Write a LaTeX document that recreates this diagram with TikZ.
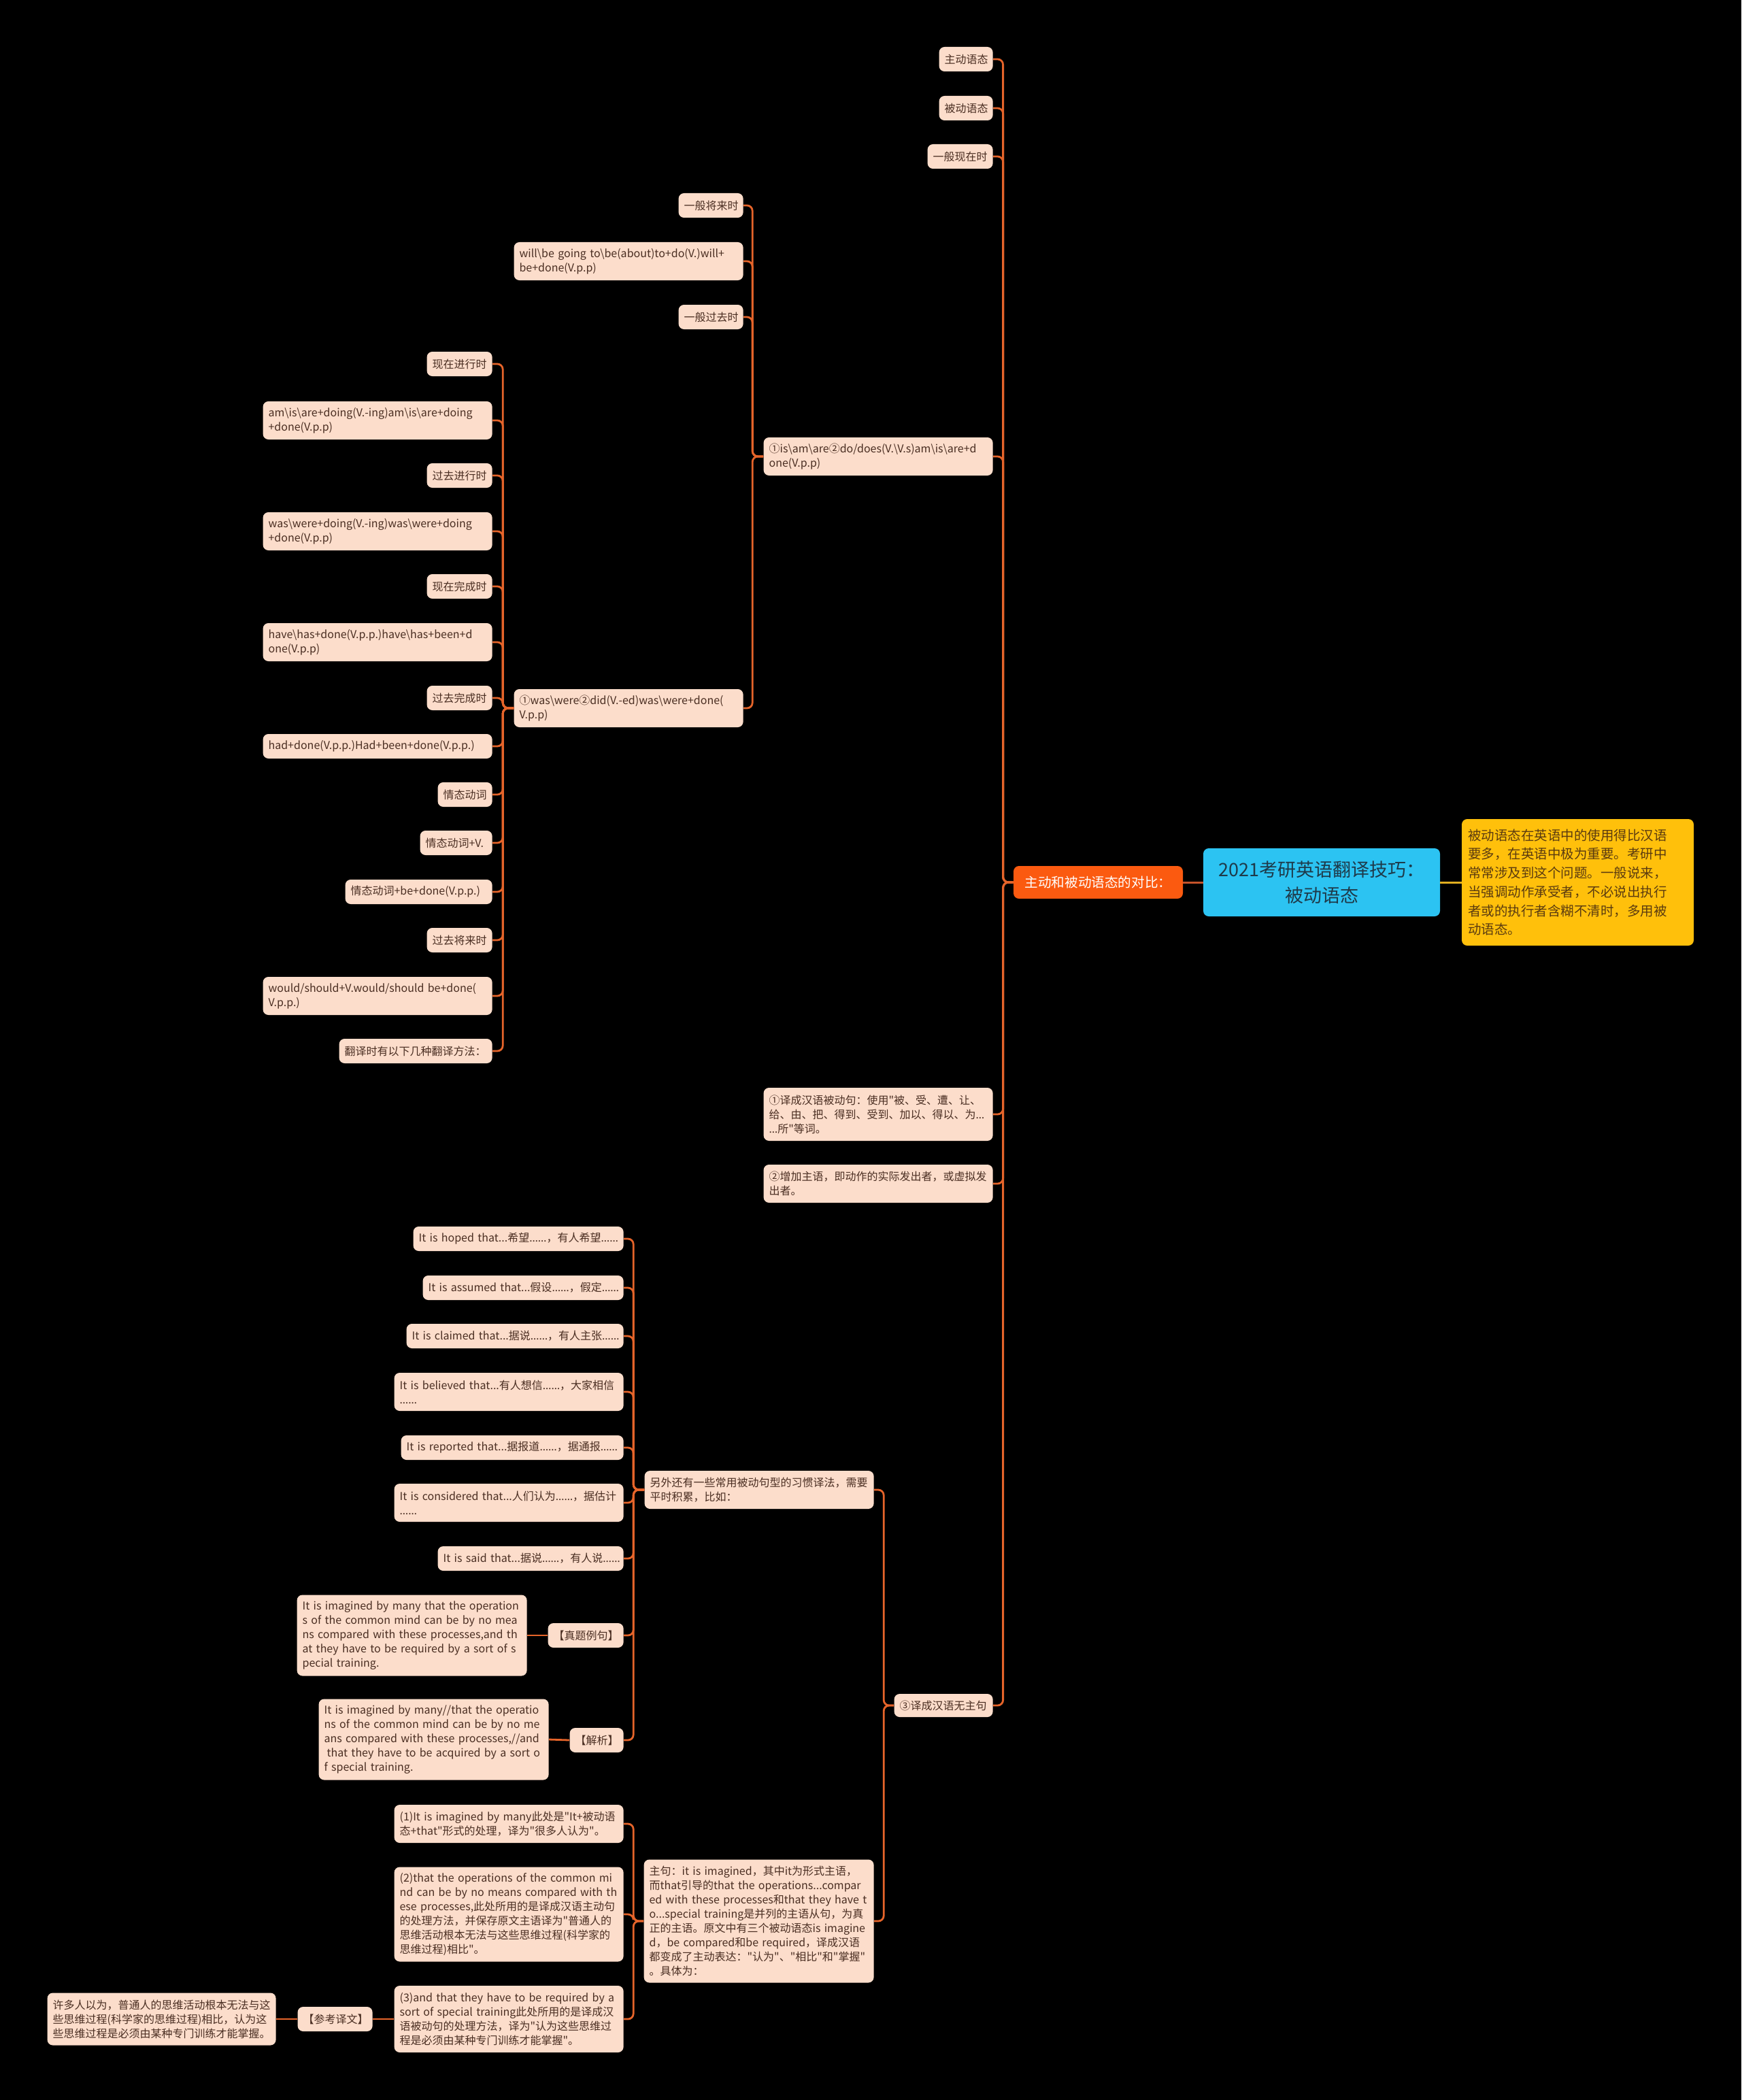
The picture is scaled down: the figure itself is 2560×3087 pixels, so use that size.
\documentclass[tikz,border=0pt]{standalone}
\usepackage{fontspec}
\newfontfamily\cjk{Noto Sans CJK SC}
\newfontfamily\latf{Noto Sans}
\newcommand\bsl{\textbackslash}
\newcommand\Ln[1]{\mbox{#1}}
\newcommand\ddd{{\latf ……}}
\newcommand\dd{{\latf …}}
\definecolor{peach}{HTML}{FCDDCB}
\definecolor{ink}{HTML}{4A2E22}
\definecolor{lnk}{HTML}{E5642A}
\definecolor{orangec}{HTML}{FB5A10}
\definecolor{rootc}{HTML}{2CC3F2}
\definecolor{roottxt}{HTML}{1E3A4A}
\definecolor{yel}{HTML}{FFC00B}
\definecolor{yeltxt}{HTML}{5A3B10}
\definecolor{rootl}{HTML}{C4532A}
\definecolor{yell}{HTML}{E0AE20}
\hyphenpenalty=10000
\exhyphenpenalty=10000
\tikzset{
  pn/.style={fill=peach, text=ink, rounded corners=4pt, font=\cjk\fontsize{8}{10.5}\selectfont,
    align=left, inner xsep=4pt, inner ysep=0pt, anchor=east},
  conn/.style={draw=lnk, line width=1.4pt, rounded corners=4pt},
  straight/.style={draw=lnk, line width=1.4pt},
  rootbox/.style={fill=rootc, text=roottxt, rounded corners=4pt, minimum width=174pt, minimum height=50pt,
    align=center, inner sep=0pt, font=\cjk\fontsize{13.5}{19}\selectfont},
  obox/.style={fill=orangec, text=white, rounded corners=4pt, minimum width=124.5pt, minimum height=24pt,
    align=center, inner sep=0pt, font=\cjk\fontsize{9.8}{12}\selectfont},
  ybox/.style={fill=yel, text=yeltxt, rounded corners=4pt, text width=161.5pt, minimum height=93pt,
    align=left, inner xsep=4.5pt, inner ysep=0pt, font=\cjk\fontsize{9.75}{13.85}\selectfont},
}
\begin{document}
\begin{tikzpicture}[x=0.5pt,y=-0.5pt]
\fill[black] (0,0) rectangle (2560,3087);
\useasboundingbox (0,0) rectangle (2560,3087);

% central nodes
\node[rootbox] (R) at (1943,1297) {2021考研英语翻译技巧：\\被动语态};
\node[obox] (O) at (1614.5,1297) {主动和被动语态的对比：};
\node[ybox] (Y) at (2319.5,1297) {\Ln{被动语态在英语中的使用得比汉语}\\\Ln{要多，在英语中极为重要。考研中}\\\Ln{常常涉及到这个问题。一般说来，}\\\Ln{当强调动作承受者，不必说出执行}\\\Ln{者或的执行者含糊不清时，多用被}\\\Ln{动语态。}};
\draw[rootl, line width=1.5pt] (R.west) -- (O.east);
\draw[yell, line width=1.5pt] (R.east) -- (Y.west);

% children of O
\node[pn, text width=31.5pt, minimum height=18pt] (n1) at (1460,87) {主动语态};
\node[pn, text width=31.5pt, minimum height=18pt] (n2) at (1460,159) {被动语态};
\node[pn, text width=40pt, minimum height=18pt] (n3) at (1460,230) {一般现在时};
\node[pn, text width=160.5pt, minimum height=28pt] (n4) at (1460,671) {\Ln{①is\bsl{}am\bsl{}are②do/does(V.\bsl{}V.s)am\bsl{}is\bsl{}are+d}\\\Ln{one(V.p.p)}};
\node[pn, text width=160.5pt, minimum height=39pt] (n5) at (1460,1638) {\Ln{①译成汉语被动句：使用"被、受、遭、让、}\\\Ln{给、由、把、得到、受到、加以、得以、为\dd}\\\Ln{\dd 所"等词。}};
\node[pn, text width=160.5pt, minimum height=28pt] (n6) at (1460,1740) {\Ln{②增加主语，即动作的实际发出者，或虚拟发}\\\Ln{出者。}};
\node[pn, text width=64.5pt, minimum height=17pt] (n7) at (1460,2507) {③译成汉语无主句};

% children of n4
\node[pn, text width=39.5pt, minimum height=18pt] (a1) at (1093,302) {一般将来时};
\node[pn, text width=160.5pt, minimum height=28pt] (a2) at (1093,384) {\Ln{will\bsl{}be going to\bsl{}be(about)to+do(V.)will+}\\\Ln{be+done(V.p.p)}};
\node[pn, text width=39.5pt, minimum height=18pt] (a3) at (1093,466) {一般过去时};
\node[pn, text width=160.5pt, minimum height=28pt] (a4) at (1093,1041) {\Ln{①was\bsl{}were②did(V.-ed)was\bsl{}were+done(}\\\Ln{V.p.p)}};

% children of a4
\node[pn, text width=40pt, minimum height=18pt] (b1) at (724,535) {现在进行时};
\node[pn, text width=160.5pt, minimum height=28pt] (b2) at (724,618) {\Ln{am\bsl{}is\bsl{}are+doing(V.-ing)am\bsl{}is\bsl{}are+doing}\\\Ln{+done(V.p.p)}};
\node[pn, text width=40pt, minimum height=18pt] (b3) at (724,699) {过去进行时};
\node[pn, text width=160.5pt, minimum height=28pt] (b4) at (724,781) {\Ln{was\bsl{}were+doing(V.-ing)was\bsl{}were+doing}\\\Ln{+done(V.p.p)}};
\node[pn, text width=40pt, minimum height=18pt] (b5) at (724,862) {现在完成时};
\node[pn, text width=160.5pt, minimum height=28pt] (b6) at (724,944) {\Ln{have\bsl{}has+done(V.p.p.)have\bsl{}has+been+d}\\\Ln{one(V.p.p)}};
\node[pn, text width=40pt, minimum height=18pt] (b7) at (724,1026) {过去完成时};
\node[pn, text width=160.5pt, minimum height=18pt] (b8) at (724,1097) {\Ln{had+done(V.p.p.)Had+been+done(V.p.p.)}};
\node[pn, text width=32pt, minimum height=18pt] (b9) at (724,1168) {情态动词};
\node[pn, text width=45pt, minimum height=18pt] (b10) at (724,1239) {情态动词+V.};
\node[pn, text width=100pt, minimum height=18pt] (b11) at (724,1311) {\Ln{情态动词+be+done(V.p.p.)}};
\node[pn, text width=40pt, minimum height=18pt] (b12) at (724,1382) {过去将来时};
\node[pn, text width=160.5pt, minimum height=28pt] (b13) at (724,1464) {\Ln{would/should+V.would/should be+done(}\\\Ln{V.p.p.)}};
\node[pn, text width=104.5pt, minimum height=18pt] (b14) at (724,1545) {\Ln{翻译时有以下几种翻译方法：}};

% children of n7
\node[pn, text width=160.5pt, minimum height=28pt] (c1) at (1285,2190) {\Ln{另外还有一些常用被动句型的习惯译法，需要}\\\Ln{平时积累，比如：}};
\node[pn, text width=161pt, minimum height=90.5pt] (c2) at (1285,2824) {\Ln{主句：it is imagined，其中it为形式主语，}\\\Ln{而that引导的that the operations...compar}\\\Ln{ed with these processes和that they have t}\\\Ln{o...special training是并列的主语从句，为真}\\\Ln{正的主语。原文中有三个被动语态is imagine}\\\Ln{d，be compared和be required，译成汉语}\\\Ln{都变成了主动表达："认为"、"相比"和"掌握"}\\\Ln{。具体为：}};

% children of c1
\node[pn, text width=146.5pt, minimum height=18pt] (d1) at (917,1821) {\Ln{It is hoped that...希望\ddd，有人希望\ddd}};
\node[pn, text width=139.5pt, minimum height=18pt] (d2) at (917,1893) {\Ln{It is assumed that...假设\ddd，假定\ddd}};
\node[pn, text width=151.5pt, minimum height=18pt] (d3) at (917,1964) {\Ln{It is claimed that...据说\ddd，有人主张\ddd}};
\node[pn, text width=160.5pt, minimum height=28pt] (d4) at (917,2046) {\Ln{It is believed that...有人想信\ddd，大家相信}\\\Ln{\ddd}};
\node[pn, text width=155.5pt, minimum height=18pt] (d5) at (917,2128) {\Ln{It is reported that...据报道\ddd，据通报\ddd}};
\node[pn, text width=160.5pt, minimum height=28pt] (d6) at (917,2209) {\Ln{It is considered that...人们认为\ddd，据估计}\\\Ln{\ddd}};
\node[pn, text width=128.5pt, minimum height=18pt] (d7) at (917,2291) {\Ln{It is said that...据说\ddd，有人说\ddd}};
\node[pn, text width=47.5pt, minimum height=18pt] (d8) at (917,2404) {【真题例句】};
\node[pn, text width=31.5pt, minimum height=18pt] (d9) at (917,2558) {【解析】};

\node[pn, text width=161pt, minimum height=59.5pt] (e1) at (775,2404) {\Ln{It is imagined by many that the operation}\\\Ln{s of the common mind can be by no mea}\\\Ln{ns compared with these processes,and th}\\\Ln{at they have to be required by a sort of s}\\\Ln{pecial training.}};
\node[pn, text width=161pt, minimum height=59.5pt] (e2) at (807,2557) {\Ln{It is imagined by many//that the operatio}\\\Ln{ns of the common mind can be by no me}\\\Ln{ans compared with these processes,//and}\\\Ln{\hspace*{0.25em}that they have to be acquired by a sort o}\\\Ln{f special training.}};

% children of c2
\node[pn, text width=160.5pt, minimum height=28pt] (f1) at (917,2681) {\Ln{(1)It is imagined by many此处是"It+被动语}\\\Ln{态+that"形式的处理，译为"很多人认为"。}};
\node[pn, text width=160.5pt, minimum height=69.5pt] (f2) at (917,2814) {\Ln{(2)that the operations of the common mi}\\\Ln{nd can be by no means compared with th}\\\Ln{ese processes,此处所用的是译成汉语主动句}\\\Ln{的处理方法，并保存原文主语译为"普通人的}\\\Ln{思维活动根本无法与这些思维过程(科学家的}\\\Ln{思维过程)相比"。}};
\node[pn, text width=160.5pt, minimum height=49pt] (f3) at (917,2968) {\Ln{(3)and that they have to be required by a}\\\Ln{sort of special training此处所用的是译成汉}\\\Ln{语被动句的处理方法，译为"认为这些思维过}\\\Ln{程是必须由某种专门训练才能掌握"。}};
\node[pn, text width=47pt, minimum height=18pt] (g1) at (548,2968) {【参考译文】};
\node[pn, text width=160pt, minimum height=38.5pt] (g2) at (406,2968) {\Ln{许多人以为，普通人的思维活动根本无法与这}\\\Ln{些思维过程(科学家的思维过程)相比，认为这}\\\Ln{些思维过程是必须由某种专门训练才能掌握。}};

% connectors
\foreach \c in {n1,n2,n3,n4,n5,n6,n7}
  \draw[conn] (O.west) -- ++(-15,0) |- (\c.east);
\foreach \c in {a1,a2,a3,a4}
  \draw[conn] (n4.west) -- ++(-16,0) |- (\c.east);
\foreach \c in {b1,b2,b3,b4,b5,b6,b7,b8,b9,b10,b11,b12,b13,b14}
  \draw[conn] (a4.west) -- ++(-16,0) |- (\c.east);
\foreach \c in {c1,c2}
  \draw[conn] (n7.west) -- ++(-15,0) |- (\c.east);
\foreach \c in {d1,d2,d3,d4,d5,d6,d7,d8,d9}
  \draw[conn] (c1.west) -- ++(-16,0) |- (\c.east);
\foreach \c in {f1,f2,f3}
  \draw[conn] (c2.west) -- ++(-15,0) |- (\c.east);
\draw[straight] (d8.west) -- (e1.east);
\draw[straight] (d9.west) -- (e2.east);
\draw[straight] (f3.west) -- (g1.east);
\draw[straight] (g1.west) -- (g2.east);
\end{tikzpicture}
\end{document}
